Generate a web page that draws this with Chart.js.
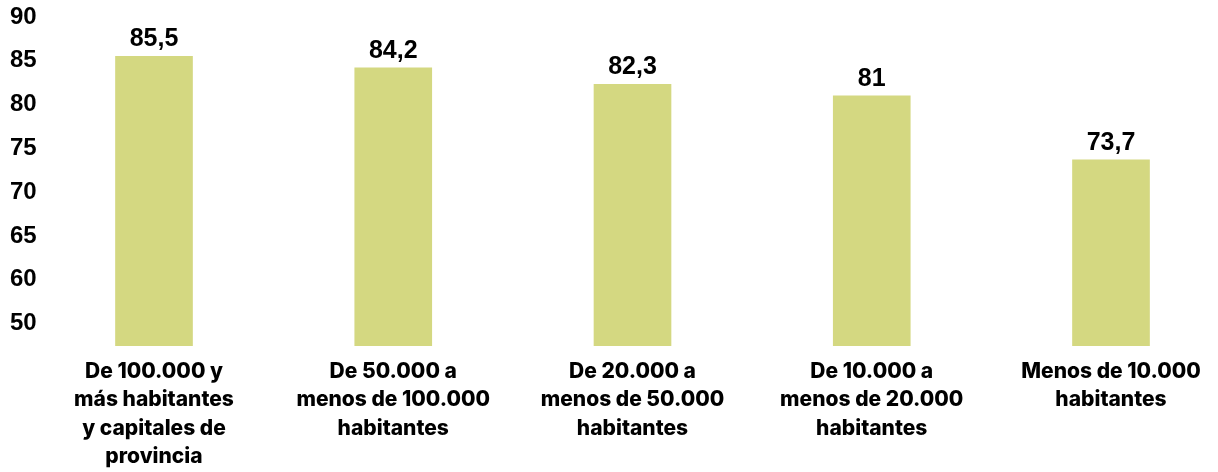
<!DOCTYPE html>
<html lang="es">
<head>
<meta charset="UTF-8">
<title>Población por tamaño de municipio</title>
<script src="https://cdn.jsdelivr.net/npm/chart.js"></script>
<style>
  html, body { margin: 0; padding: 0; background: #fff; }
  #wrap { width: 1218px; height: 472px; position: relative; }
</style>
</head>
<body>
<div id="wrap"><canvas id="grafico"></canvas></div>
<script>
// Categorías (tamaño del municipio), una línea por elemento
const categorias = [
  ['De 100.000 y', 'más habitantes', 'y capitales de', 'provincia'],
  ['De 50.000 a', 'menos de 100.000', 'habitantes'],
  ['De 20.000 a', 'menos de 50.000', 'habitantes'],
  ['De 10.000 a', 'menos de 20.000', 'habitantes'],
  ['Menos de 10.000', 'habitantes']
];
const valores = [85.5, 84.2, 82.3, 81, 73.7];

// Marcas del eje Y y el texto que lleva cada una
const marcasY = [55, 60, 65, 70, 75, 80, 85, 90];
const etiquetasY = ['50', '60', '65', '70', '75', '80', '85', '90'];

const colorBarra = '#d4d881';
const fuenteNum = '"Liberation Sans", Arial, sans-serif';
const fuenteCat = 'Inter, "Open Sans", sans-serif';

// Escribe el valor encima de cada barra
const valoresEncima = {
  id: 'valoresEncima',
  afterDatasetsDraw(chart) {
    const ctx = chart.ctx;
    const meta = chart.getDatasetMeta(0);
    ctx.save();
    ctx.font = 'bold 25px ' + fuenteNum;
    ctx.fillStyle = '#000';
    ctx.textAlign = 'center';
    ctx.textBaseline = 'alphabetic';
    meta.data.forEach((bar, i) => {
      const txt = String(valores[i]).replace('.', ',');
      ctx.fillText(txt, bar.x, bar.y - 10);
    });
    ctx.restore();
  }
};

new Chart(document.getElementById('grafico'), {
  type: 'bar',
  data: {
    labels: categorias,
    datasets: [{
      data: valores,
      backgroundColor: colorBarra,
      barThickness: 77,
      // las barras de los extremos pueden salirse a los lados, no por abajo
      clip: { left: false, right: false, top: 0, bottom: 0 }
    }]
  },
  options: {
    responsive: true,
    maintainAspectRatio: false,
    animation: false,
    layout: { padding: { top: 17, right: 107, left: 10, bottom: 0 } },
    plugins: { legend: { display: false }, tooltip: { enabled: false } },
    scales: {
      x: {
        offset: false,
        grid: { display: false, drawTicks: false },
        border: { display: false },
        ticks: {
          color: '#000',
          padding: 11,
          maxRotation: 0,
          autoSkip: false,
          font: { family: fuenteCat, size: 21, weight: 800, lineHeight: 1.36 }
        },
        afterFit(s) { s.height = 126; }
      },
      y: {
        min: 52.44,
        max: 90,
        grid: { display: false, drawTicks: false },
        border: { display: false },
        afterBuildTicks(s) { s.ticks = marcasY.map(v => ({ value: v })); },
        afterFit(s) { s.width = 144; },
        ticks: {
          color: '#000',
          crossAlign: 'far',
          padding: 0,
          font: { family: fuenteNum, size: 24, weight: 'bold' },
          callback(v) {
            const i = marcasY.indexOf(v);
            return i >= 0 ? etiquetasY[i] : '';
          }
        }
      }
    }
  },
  plugins: [valoresEncima]
});
</script>
</body>
</html>
